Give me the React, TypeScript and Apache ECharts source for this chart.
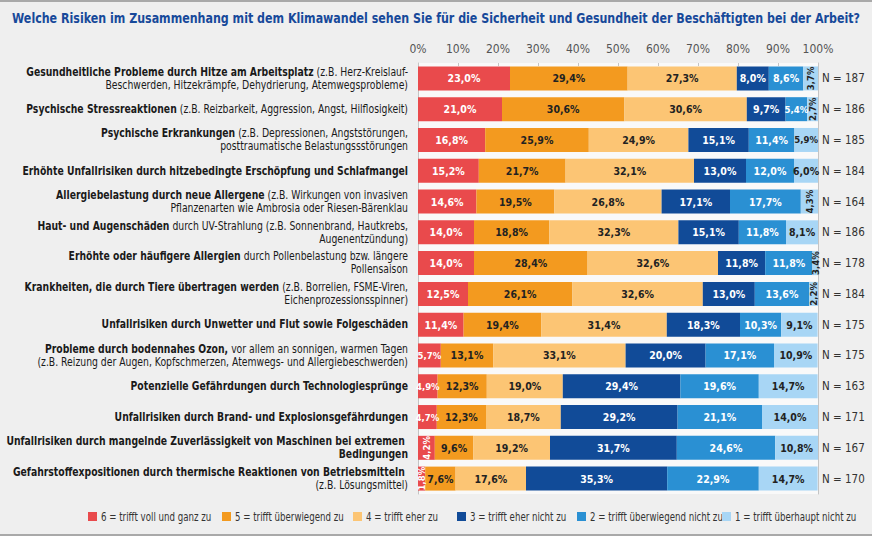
import React, { useEffect, useRef } from "react";
import * as echarts from "echarts";

const titleText =
  "Welche Risiken im Zusammenhang mit dem Klimawandel sehen Sie für die Sicherheit und Gesundheit der Beschäftigten bei der Arbeit?";

// Row labels: {b|...} marks the bold lead-in of each risk.
const risks = [
  "{b|Gesundheitliche Probleme durch Hitze am Arbeitsplatz} (z.B. Herz-Kreislauf-\nBeschwerden, Hitzekrämpfe, Dehydrierung, Atemwegsprobleme)",
  "{b|Psychische Stressreaktionen} (z.B. Reizbarkeit, Aggression, Angst, Hilflosigkeit)",
  "{b|Psychische Erkrankungen} (z.B. Depressionen, Angststörungen,\nposttraumatische Belastungssstörungen",
  "{b|Erhöhte Unfallrisiken durch hitzebedingte Erschöpfung und Schlafmangel}",
  "{b|Allergiebelastung durch neue Allergene} (z.B. Wirkungen von invasiven\nPflanzenarten wie Ambrosia oder Riesen-Bärenklau",
  "{b|Haut- und Augenschäden} durch UV-Strahlung (z.B. Sonnenbrand, Hautkrebs,\nAugenentzündung)",
  "{b|Erhöhte oder häufigere Allergien} durch Pollenbelastung bzw. längere\nPollensaison",
  "{b|Krankheiten, die durch Tiere übertragen werden} (z.B. Borrelien, FSME-Viren,\nEichenprozessionsspinner)",
  "{b|Unfallrisiken durch Unwetter und Flut sowie Folgeschäden}",
  "{b|Probleme durch bodennahes Ozon,} vor allem an sonnigen, warmen Tagen\n(z.B. Reizung der Augen, Kopfschmerzen, Atemwegs- und Allergiebeschwerden)",
  "{b|Potenzielle Gefährdungen durch Technologiesprünge}",
  "{b|Unfallrisiken durch Brand- und Explosionsgefährdungen}",
  "{b|Unfallrisiken durch mangelnde Zuverlässigkeit von Maschinen bei extremen }\n{b|Bedingungen}",
  "{b|Gefahrstoffexpositionen durch thermische Reaktionen von Betriebsmitteln }\n(z.B. Lösungsmittel)",
];

const sampleSizes = [187, 186, 185, 184, 164, 186, 178, 184, 175, 175, 163, 171, 167, 170];

const scaleNames = [
  "6 = trifft voll und ganz zu",
  "5 = trifft überwiegend zu",
  "4 = trifft eher zu",
  "3 = trifft eher nicht zu",
  "2 = trifft überwiegend nicht zu",
  "1 = trifft überhaupt nicht zu",
];

// Share of answers (%) per scale point, one value per risk row.
const score6 = [23.0, 21.0, 16.8, 15.2, 14.6, 14.0, 14.0, 12.5, 11.4, 5.7, 4.9, 4.7, 4.2, 1.8];
const score5 = [29.4, 30.6, 25.9, 21.7, 19.5, 18.8, 28.4, 26.1, 19.4, 13.1, 12.3, 12.3, 9.6, 7.6];
const score4 = [27.3, 30.6, 24.9, 32.1, 26.8, 32.3, 32.6, 32.6, 31.4, 33.1, 19.0, 18.7, 19.2, 17.6];
const score3 = [8.0, 9.7, 15.1, 13.0, 17.1, 15.1, 11.8, 13.0, 18.3, 20.0, 29.4, 29.2, 31.7, 35.3];
const score2 = [8.6, 5.4, 11.4, 12.0, 17.7, 11.8, 11.8, 13.6, 10.3, 17.1, 19.6, 21.1, 24.6, 22.9];
const score1 = [3.7, 2.7, 5.9, 6.0, 4.3, 8.1, 3.4, 2.2, 9.1, 10.9, 14.7, 14.0, 10.8, 14.7];

const axisTicks = [0, 10, 20, 30, 40, 50, 60, 70, 80, 90, 100];

const FONT = "'DejaVu Sans Condensed', 'Liberation Sans', sans-serif";
const COLORS = ["#e94a4c", "#f39a1f", "#fcc574", "#114b98", "#2a90d3", "#a8d6f5"];
const LABEL_COLORS = ["#ffffff", "#222222", "#222222", "#ffffff", "#ffffff", "#222222"];
// horizontal squeeze applied to the long texts to get a narrow typeface look
const NARROW = 0.86;
const LEGEND_NARROW = 0.8;
const LEGEND_X = [88, 222, 353, 457, 577, 722];

const fmt = (v: number) => v.toFixed(1).replace(".", ",") + "%";

// narrow segments get a smaller label; very narrow ones a vertical one
const segmentLabel = (v: number) => {
  if (v < 4.5) return { value: v, label: { rotate: 90, fontSize: 9.5 } };
  if (v < 6) return { value: v, label: { fontSize: 9.5 } };
  return { value: v };
};

export default function App() {
  const ref = useRef<HTMLDivElement>(null);

  useEffect(() => {
    if (!ref.current) return;
    const chart = echarts.init(ref.current, undefined, { renderer: "svg" });
    const allScores = [score6, score5, score4, score3, score2, score1];

    const series = allScores.map((values, si) => ({
      name: scaleNames[si],
      type: "bar",
      stack: "total",
      barWidth: 24,
      itemStyle: { color: COLORS[si] },
      label: {
        show: true,
        position: "inside",
        formatter: (p: any) => fmt(p.value),
        color: LABEL_COLORS[si],
        fontFamily: FONT,
        fontSize: 10.5,
        fontWeight: "bold",
      },
      data: values.map(segmentLabel),
    }));

    chart.setOption({
      animation: false,
      backgroundColor: "#efefef",
      textStyle: { fontFamily: FONT },
      grid: {
        left: 418,
        top: 63,
        width: 400,
        height: 431,
        outerBoundsMode: "none",
        containLabel: false,
        show: true,
        backgroundColor: "#f9f9f9",
        borderWidth: 0,
      },
      xAxis: {
        type: "value",
        position: "top",
        min: axisTicks[0],
        max: axisTicks[axisTicks.length - 1],
        interval: 10,
        axisLine: { show: false },
        axisTick: { show: true, inside: true, length: 3, lineStyle: { color: "#c4c4c4" } },
        splitLine: { show: false },
        axisLabel: { formatter: "{value}%", color: "#555", fontSize: 12, margin: 8, fontFamily: FONT },
      },
      yAxis: [
        {
          type: "category",
          inverse: true,
          data: risks,
          axisLine: { show: true, lineStyle: { color: "#c4c4c4" } },
          axisTick: { show: false },
          axisLabel: { show: false },
        },
        {
          type: "category",
          inverse: true,
          position: "right",
          data: sampleSizes.map((n) => `N = ${n}`),
          axisLine: { show: true, lineStyle: { color: "#c4c4c4" } },
          axisTick: { show: false },
          axisLabel: { margin: 4, color: "#333", fontSize: 11.5, fontFamily: FONT },
        },
      ],
      series,
    });

    // Row labels, title and legend as narrowed text elements placed via the category axis.
    const rowLabels = risks.map((text, i) => {
      const y = chart.convertToPixel({ yAxisIndex: 0 }, i) as number;
      return {
        type: "text",
        x: 408,
        y,
        scaleX: NARROW,
        style: {
          text,
          fill: "#1a1a1a",
          fontSize: 12,
          fontFamily: FONT,
          lineHeight: 13,
          align: "right",
          verticalAlign: "middle",
          rich: {
            b: { fontWeight: "bold", fontSize: 12, lineHeight: 13, fill: "#1a1a1a", fontFamily: FONT },
          },
        },
      };
    });

    const legendItems = scaleNames.flatMap((name, i) => [
      {
        type: "rect",
        shape: { x: LEGEND_X[i], y: 512, width: 9, height: 9 },
        style: { fill: COLORS[i] },
      },
      {
        type: "text",
        x: LEGEND_X[i] + 13,
        y: 517,
        scaleX: LEGEND_NARROW,
        style: {
          text: name,
          fill: "#333",
          fontSize: 12,
          fontFamily: FONT,
          align: "left",
          verticalAlign: "middle",
        },
      },
    ]);

    chart.setOption({
      graphic: [
        { type: "rect", shape: { x: 0, y: 0, width: 872, height: 2 }, style: { fill: "#a9a9a9" } },
        { type: "rect", shape: { x: 0, y: 534, width: 872, height: 2 }, style: { fill: "#a9a9a9" } },
        {
          type: "text",
          x: 436,
          y: 18,
          scaleX: 0.85,
          style: {
            text: titleText,
            fill: "#17499a",
            fontSize: 14.5,
            fontWeight: "bold",
            fontFamily: FONT,
            align: "center",
            verticalAlign: "middle",
          },
        },
        ...rowLabels,
        ...legendItems,
      ],
    });

    return () => chart.dispose();
  }, []);

  return (
    <div ref={ref} style={{ position: "fixed", left: 0, top: 0, width: 872, height: 536 }} />
  );
}
